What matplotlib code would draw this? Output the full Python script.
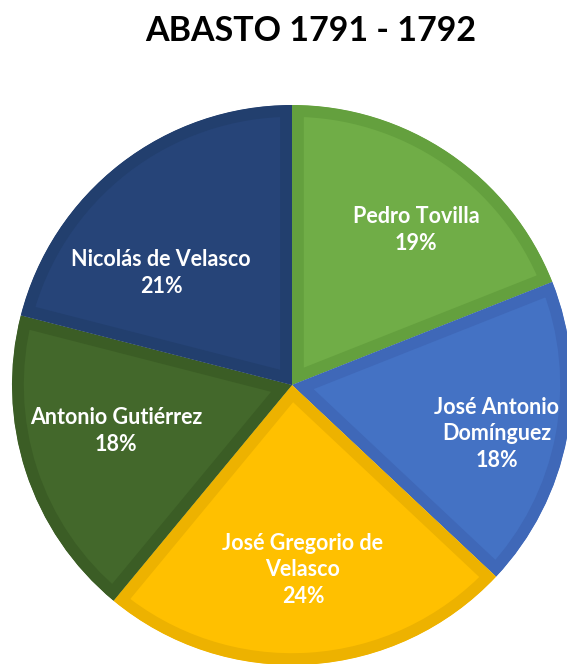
import matplotlib.pyplot as plt

# data
names = ['Pedro Tovilla', 'José Antonio\nDomínguez', 'José Gregorio de\nVelasco',
         'Antonio Gutiérrez', 'Nicolás de Velasco']
shares = [19, 18, 24, 18, 21]
fills = ['#70AD47', '#4472C4', '#FFC000', '#43682B', '#264478']
borders = ['#64A03E', '#3F68B8', '#EDB200', '#3B5D25', '#223F6E']

W, H = 567, 664
fig = plt.figure(figsize=(W / 100, H / 100), dpi=100)
ax = fig.add_axes([0, 0, 1, 1])

cx, cy, r = 292, H - 385, 280
wedges, _ = ax.pie(shares, colors=fills, startangle=90, counterclock=False,
                   radius=r, center=(cx, cy), frame=True,
                   wedgeprops=dict(linewidth=17, joinstyle='miter'))
for w, ec in zip(wedges, borders):
    w.set_edgecolor(ec)
    w.set_clip_on(True)
    w.set_clip_path(w)  # keep border inside the slice
ax.set_xlim(0, W)
ax.set_ylim(0, H)
ax.set_aspect('auto')
ax.axis('off')

# label spots (pixel offsets from centre), excel "best fit"
spots = [(124, 155), (205, -49), (11, -185), (-176, -46), (-131, 112)]
for name, s, (dx, dy) in zip(names, shares, spots):
    ax.text(cx + dx, cy + dy, f'{name}\n{s}%', ha='center', va='center',
            color='white', fontsize=15.5, fontweight='bold', family='Lato',
            linespacing=1.35)

fig.text(311 / W, 1 - 31 / H, 'ABASTO 1791 - 1792', ha='center', va='center',
         fontsize=24.5, fontweight='bold', family='Lato')

fig.savefig('out.png', dpi=100)
